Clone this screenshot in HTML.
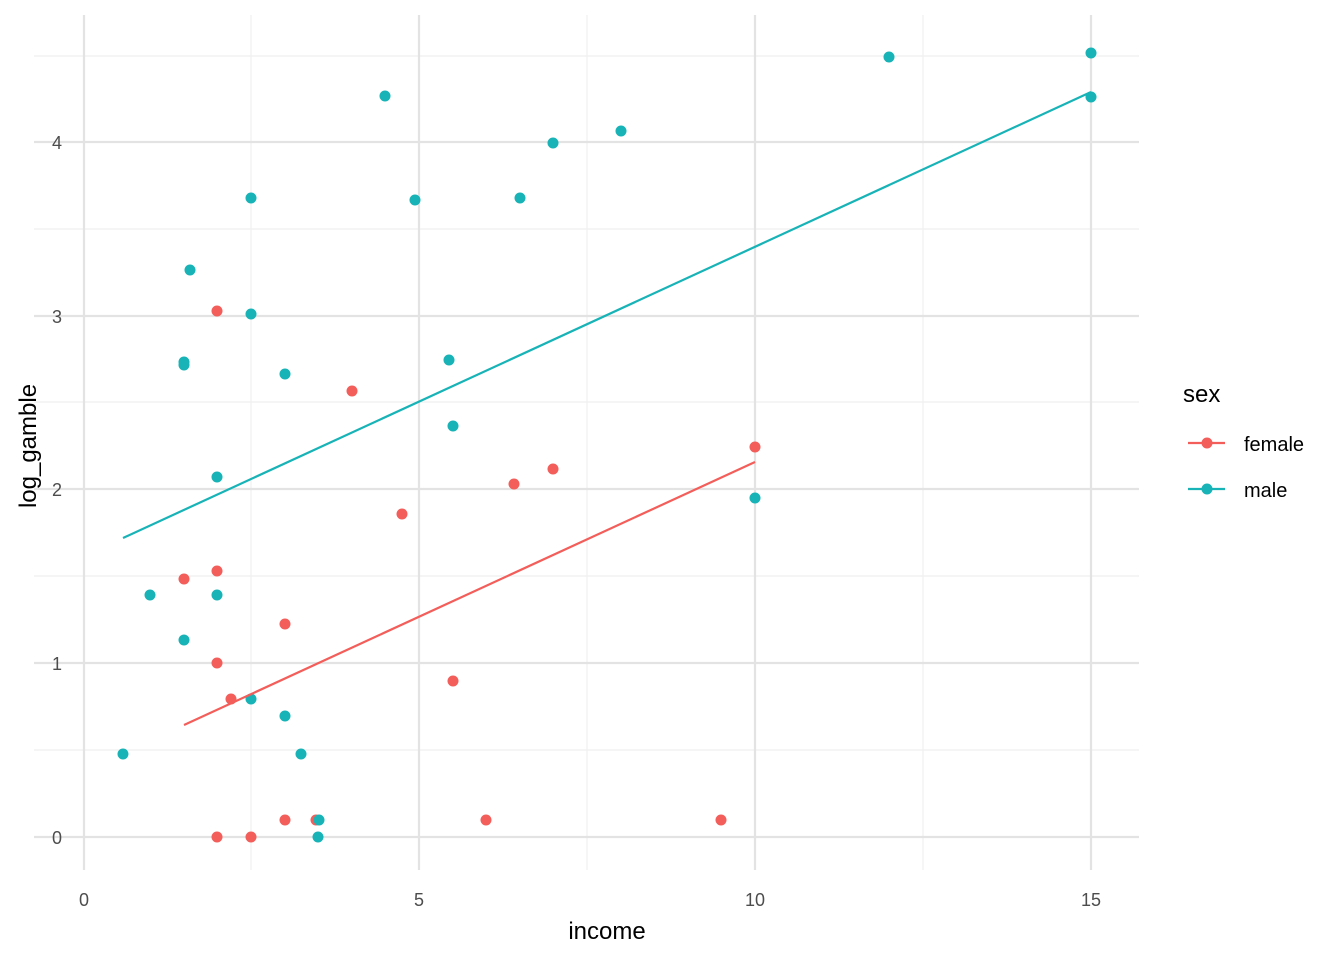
<!DOCTYPE html>
<html><head><style>body{margin:0;background:#fff}</style></head><body>
<svg width="1344" height="960" xmlns="http://www.w3.org/2000/svg" font-family="Liberation Sans, sans-serif">
<g stroke="#efefef" stroke-width="1.2">
<line x1="251" y1="15" x2="251" y2="870"/><line x1="587" y1="15" x2="587" y2="870"/><line x1="923" y1="15" x2="923" y2="870"/>
<line x1="34" y1="750" x2="1139" y2="750"/><line x1="34" y1="576" x2="1139" y2="576"/><line x1="34" y1="402" x2="1139" y2="402"/><line x1="34" y1="229" x2="1139" y2="229"/><line x1="34" y1="56" x2="1139" y2="56"/>
</g>
<g stroke="#e3e3e3" stroke-width="2.2">
<line x1="84" y1="15" x2="84" y2="870"/><line x1="419" y1="15" x2="419" y2="870"/><line x1="755" y1="15" x2="755" y2="870"/><line x1="1091" y1="15" x2="1091" y2="870"/>
<line x1="34" y1="837" x2="1139" y2="837"/><line x1="34" y1="663" x2="1139" y2="663"/><line x1="34" y1="489" x2="1139" y2="489"/><line x1="34" y1="316" x2="1139" y2="316"/><line x1="34" y1="142" x2="1139" y2="142"/>
</g>
<g fill="#4d4d4d" font-size="18" text-anchor="end">
<text x="62" y="844">0</text><text x="62" y="670">1</text><text x="62" y="496">2</text><text x="62" y="323">3</text><text x="62" y="149">4</text>
</g>
<g fill="#4d4d4d" font-size="18" text-anchor="middle">
<text x="84" y="906">0</text><text x="419" y="906">5</text><text x="755" y="906">10</text><text x="1091" y="906">15</text>
</g>
<text x="607" y="939" font-size="24" text-anchor="middle">income</text>
<text transform="translate(36,446) rotate(-90)" font-size="24" text-anchor="middle">log_gamble</text>
<g fill="#F35E5A">
<circle cx="217" cy="311" r="5.5"/><circle cx="352" cy="391" r="5.5"/><circle cx="184" cy="579" r="5.5"/><circle cx="217" cy="571" r="5.5"/><circle cx="402" cy="514" r="5.5"/><circle cx="514" cy="484" r="5.5"/><circle cx="553" cy="469" r="5.5"/><circle cx="755" cy="447" r="5.5"/><circle cx="285" cy="624" r="5.5"/><circle cx="217" cy="663" r="5.5"/><circle cx="231" cy="699" r="5.5"/><circle cx="453" cy="681" r="5.5"/><circle cx="217" cy="837" r="5.5"/><circle cx="251" cy="837" r="5.5"/><circle cx="285" cy="820" r="5.5"/><circle cx="316" cy="820" r="5.5"/><circle cx="486" cy="820" r="5.5"/><circle cx="721" cy="820" r="5.5"/>
</g>
<g fill="#17B3B7">
<circle cx="385" cy="96" r="5.5"/><circle cx="889" cy="57" r="5.5"/><circle cx="1091" cy="53" r="5.5"/><circle cx="1091" cy="97" r="5.5"/><circle cx="621" cy="131" r="5.5"/><circle cx="553" cy="143" r="5.5"/><circle cx="251" cy="198" r="5.5"/><circle cx="415" cy="200" r="5.5"/><circle cx="520" cy="198" r="5.5"/><circle cx="190" cy="270" r="5.5"/><circle cx="251" cy="314" r="5.5"/><circle cx="184" cy="362" r="5.5"/><circle cx="184" cy="365" r="5.5"/><circle cx="285" cy="374" r="5.5"/><circle cx="449" cy="360" r="5.5"/><circle cx="453" cy="426" r="5.5"/><circle cx="217" cy="477" r="5.5"/><circle cx="755" cy="498" r="5.5"/><circle cx="150" cy="595" r="5.5"/><circle cx="217" cy="595" r="5.5"/><circle cx="184" cy="640" r="5.5"/><circle cx="251" cy="699" r="5.5"/><circle cx="285" cy="716" r="5.5"/><circle cx="123" cy="754" r="5.5"/><circle cx="301" cy="754" r="5.5"/><circle cx="319" cy="820" r="5.5"/><circle cx="318" cy="837" r="5.5"/>
</g>
<line x1="123" y1="538" x2="1091" y2="92" stroke="#17B3B7" stroke-width="2.2"/>
<line x1="184" y1="725" x2="755" y2="462" stroke="#F35E5A" stroke-width="2.2"/>
<text x="1183" y="402" font-size="24">sex</text>
<line x1="1188" y1="443" x2="1225" y2="443" stroke="#F35E5A" stroke-width="2.2"/><circle cx="1207" cy="443" r="5.5" fill="#F35E5A"/>
<line x1="1188" y1="489" x2="1225" y2="489" stroke="#17B3B7" stroke-width="2.2"/><circle cx="1207" cy="489" r="5.5" fill="#17B3B7"/>
<text x="1244" y="451" font-size="20">female</text>
<text x="1244" y="497" font-size="20">male</text>
</svg>
</body></html>
